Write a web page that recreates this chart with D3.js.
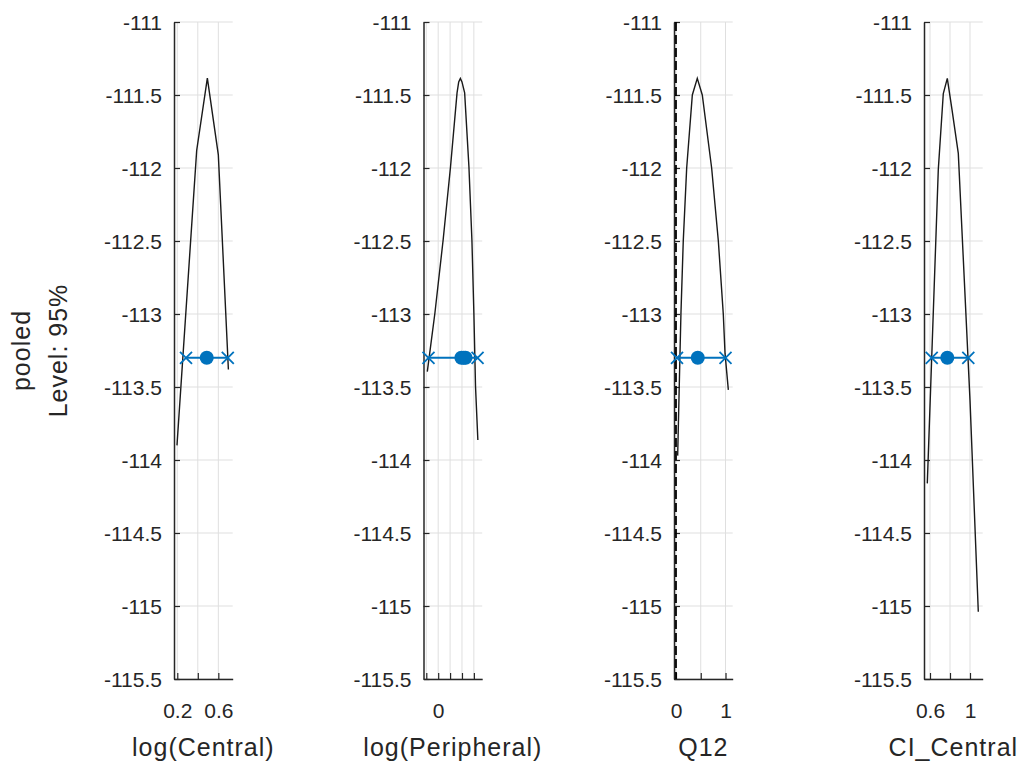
<!DOCTYPE html>
<html><head><meta charset="utf-8">
<script src="https://cdn.jsdelivr.net/npm/d3@7"></script>
<style>body{margin:0;background:#fff}svg{display:block}</style>
</head><body><svg id="c" width="1025" height="765"></svg>
<script>
// ---- data ----
const varNames = ["log(Central)", "log(Peripheral)", "Q12", "CI_Central"];
const yTickValues = [-111, -111.5, -112, -112.5, -113, -113.5, -114, -114.5, -115, -115.5];
const yTickLabels = ["-111", "-111.5", "-112", "-112.5", "-113", "-113.5", "-114", "-114.5", "-115", "-115.5"];
const yLimits = [-115.5, -111];
const xLimits = [[0.168, 0.74], [-0.247, 0.74], [-0.04, 1.145], [0.54, 1.127]];
const xTickValues = [[0.2, 0.4, 0.6], [-0.2, 0, 0.2, 0.4, 0.6], [0, 0.5, 1], [0.6, 0.8, 1.0]];
const xTickLabels = [["0.2", "", "0.6"], ["", "0", "", "", ""], ["0", "", "1"], ["0.6", "", "1"]];

const curveX = [
  [0.197, 0.389, 0.493, 0.600, 0.698],
  [-0.183, -0.055, 0.083, 0.207, 0.317, 0.345, 0.373, 0.40, 0.445, 0.517, 0.567, 0.600, 0.628, 0.667],
  [0.034, 0.081, 0.10, 0.147, 0.216, 0.33, 0.43, 0.531, 0.72, 0.855, 0.955, 0.99, 1.057],
  [0.573, 0.683, 0.733, 0.773, 0.82, 0.883, 1.00, 1.083]
];
const curveY = [
  [-113.90, -111.88, -111.384, -111.91, -113.38],
  [-113.395, -112.993, -112.493, -111.993, -111.486, -111.41, -111.386, -111.41, -111.486, -111.993, -112.493, -112.993, -113.5, -113.863],
  [-113.97, -113.27, -113.0, -112.5, -112.0, -111.5, -111.386, -111.5, -112.0, -112.5, -113.0, -113.27, -113.52],
  [-114.16, -112.01, -111.49, -111.386, -111.6, -111.9, -113.59, -115.04]
];
const ciLow = [0.285, -0.163, 0.02, 0.617];
const estimate = [0.487, 0.39, 0.44, 0.773];
const ciHigh = [0.692, 0.662, 1.0, 0.983];
const estimateExtra = [[], [0.43, 0.46], [], []];
const responseLevel = -113.30;
const boundaryLine = [null, null, 0, null]; // dashed vertical line (Q12 lower bound)
const yLabelLines = ["pooled", "Level: 95%"];

// ---- layout ----
const svg = d3.select("#c");
const axTop = 22, axBottom = 679, axWidth = 58.7;
const axLefts = [174, 423.5, 674, 924];
const txt = "#262626", gridC = "#dfdfdf", blue = "#0072BD";
const font = "'Liberation Sans', Arial, Helvetica, sans-serif";

const y = d3.scaleLinear().domain(yLimits).range([axBottom, axTop]);

varNames.forEach((name, i) => {
  const left = axLefts[i];
  const x = d3.scaleLinear().domain(xLimits[i]).range([left, left + axWidth]);
  const g = svg.append("g");

  // grid
  g.append("g").selectAll("line").data(yTickValues).join("line")
    .attr("x1", left).attr("x2", left + axWidth)
    .attr("y1", d => y(d)).attr("y2", d => y(d))
    .attr("stroke", gridC).attr("stroke-width", 1);
  g.append("g").selectAll("line").data(xTickValues[i]).join("line")
    .attr("x1", d => x(d)).attr("x2", d => x(d))
    .attr("y1", axTop).attr("y2", axBottom)
    .attr("stroke", gridC).attr("stroke-width", 1);

  // y axis
  const yAxis = d3.axisLeft(y).tickValues(yTickValues)
    .tickFormat((d, k) => yTickLabels[k]).tickSizeInner(-6).tickSizeOuter(0).tickPadding(12);
  const ya = g.append("g").attr("transform", `translate(${left},0)`).call(yAxis);
  ya.select(".domain").attr("stroke", txt).attr("stroke-width", 1.5);
  ya.selectAll(".tick line").attr("stroke", txt).attr("stroke-width", 1.2);
  ya.selectAll(".tick text").attr("fill", txt).style("font-family", font).style("font-size", "21px")
    .attr("dy", "0.36em");

  // x axis
  const xAxis = d3.axisBottom(x).tickValues(xTickValues[i])
    .tickFormat((d, k) => xTickLabels[i][k]).tickSizeInner(-6).tickSizeOuter(0).tickPadding(24);
  const xa = g.append("g").attr("transform", `translate(0,${axBottom})`).call(xAxis);
  xa.select(".domain").attr("stroke", txt).attr("stroke-width", 1.5);
  xa.selectAll(".tick line").attr("stroke", txt).attr("stroke-width", 1.2);
  xa.selectAll(".tick text").attr("fill", txt).style("font-family", font).style("font-size", "21px");

  // x label
  g.append("text").attr("x", left + axWidth / 2).attr("y", 756)
    .attr("text-anchor", "middle").attr("fill", txt)
    .style("font-family", font).style("font-size", "25px").style("letter-spacing", "1px").text(name);

  // boundary dashed line
  if (boundaryLine[i] !== null) {
    g.append("line").attr("x1", x(boundaryLine[i])).attr("x2", x(boundaryLine[i]))
      .attr("y1", axTop).attr("y2", axBottom)
      .attr("stroke", "#000").attr("stroke-width", 1.8).attr("stroke-dasharray", "9,4");
  }

  // profile curve
  const pts = curveX[i].map((v, k) => [v, curveY[i][k]]);
  g.append("path").datum(pts)
    .attr("d", d3.line().x(d => x(d[0])).y(d => y(d[1])))
    .attr("fill", "none").attr("stroke", "#1a1a1a").attr("stroke-width", 1.4);

  // CI line + markers
  const ry = y(responseLevel);
  g.append("line").attr("x1", x(ciLow[i])).attr("x2", x(ciHigh[i]))
    .attr("y1", ry).attr("y2", ry).attr("stroke", blue).attr("stroke-width", 2);
  [ciLow[i], ciHigh[i]].forEach(v => {
    const cx = x(v), s = 6;
    g.append("path").attr("d", `M${cx - s},${ry - s}L${cx + s},${ry + s}M${cx - s},${ry + s}L${cx + s},${ry - s}`)
      .attr("stroke", blue).attr("stroke-width", 1.8).attr("fill", "none");
  });
  [estimate[i]].concat(estimateExtra[i]).forEach(v => {
    g.append("circle").attr("cx", x(v)).attr("cy", ry).attr("r", 7).attr("fill", blue);
  });
});

// y label (two lines, rotated)
const yl = svg.append("text").attr("transform", `translate(30,${(axTop + axBottom) / 2}) rotate(-90)`)
  .attr("text-anchor", "middle").attr("fill", txt).style("font-family", font)
  .style("font-size", "25px").style("letter-spacing", "1px");
yLabelLines.forEach((t, k) => {
  yl.append("tspan").attr("x", 0).attr("y", k * 37).text(t);
});
</script>
</body></html>
